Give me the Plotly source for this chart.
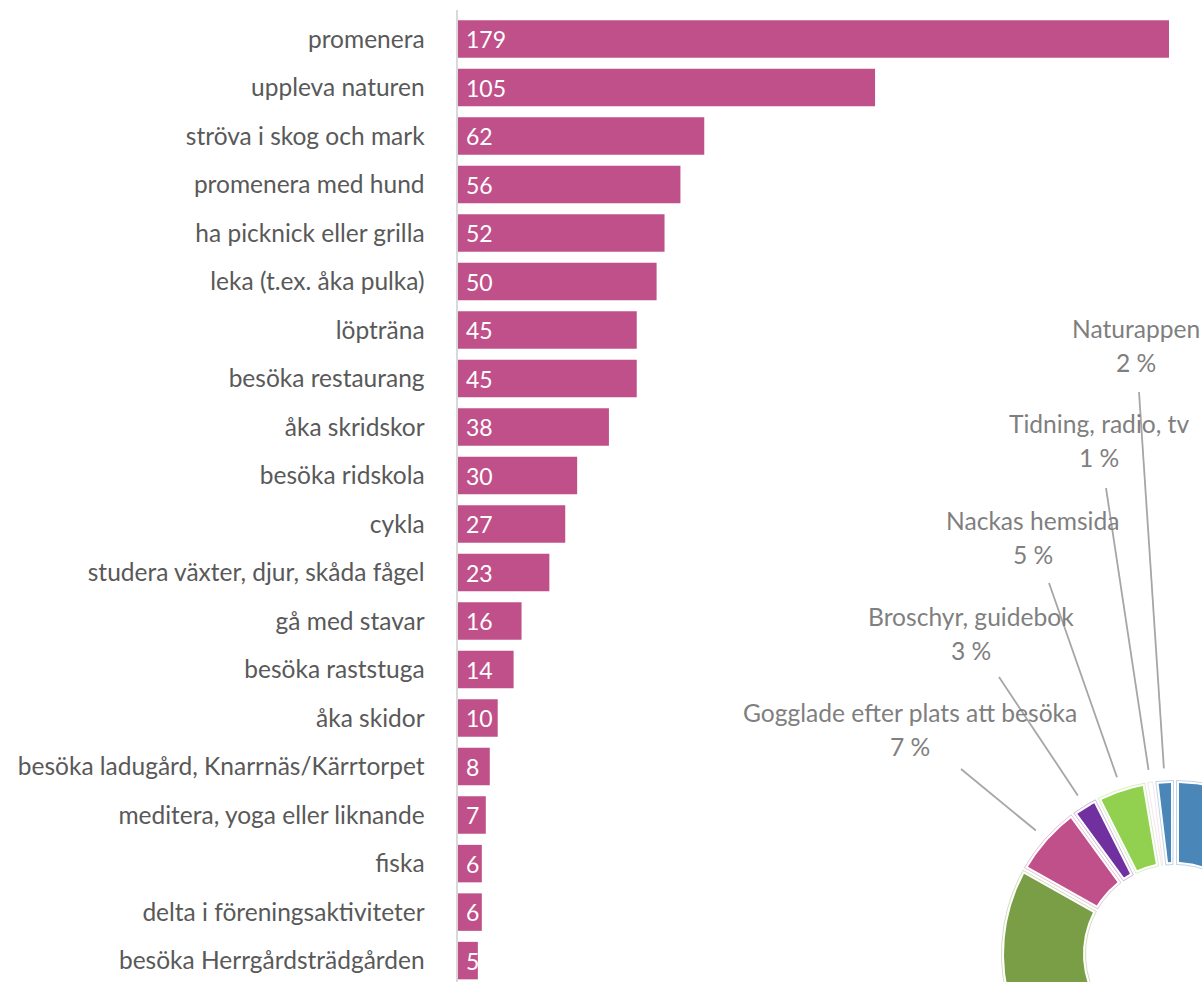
import math
import plotly.graph_objects as go

# ---------------- data ----------------
categories = [
    "promenera", "uppleva naturen", "ströva i skog och mark", "promenera med hund",
    "ha picknick eller grilla", "leka (t.ex. åka pulka)", "löpträna", "besöka restaurang",
    "åka skridskor", "besöka ridskola", "cykla", "studera växter, djur, skåda fågel",
    "gå med stavar", "besöka raststuga", "åka skidor", "besöka ladugård, Knarrnäs/Kärrtorpet",
    "meditera, yoga eller liknande", "fiska", "delta i föreningsaktiviteter",
    "besöka Herrgårdsträdgården",
]
counts = [179, 105, 62, 56, 52, 50, 45, 45, 38, 30, 27, 23, 16, 14, 10, 8, 7, 6, 6, 5]

# donut (clockwise from 12 o'clock); first two slices lie outside the visible area
source_labels = [
    "Övrigt A", "Övrigt B", "Gogglade efter plats att besöka", "Broschyr, guidebok",
    "Nackas hemsida", "Tidning, radio, tv", "Naturappen",
]
source_shares = [52.15, 31.0, 6.8, 2.6, 4.8, 0.75, 1.9]
source_show_label = [False, False, True, True, True, True, True]

# ---------------- styles / layout ----------------
PAGE_W, PAGE_H = 1202, 982
W, H = PAGE_W, PAGE_H
L_PAGE, T_PAGE = 458, 10     # plot area top-left in page pixels
BAR_COLOR = "#C0508A"
slice_colors = ["#4A86B8", "#7A9E46", "#C0508A", "#7030A0", "#92D050", "#FFFFFF", "#4A86B8"]
slice_outline = ["#4A86B8", "#7A9E46", "#C0508A", "#7030A0", "#92D050", "#E4B8D2", "#4A86B8"]
FONT = "Lato"
FS_CAT = 24.5
FS_VAL = 23
FS_LAB = 24.6

# donut geometry in page pixels
CX, CY = 1175, 954
R_OUT, R_IN = 171, 92
GAP = 4.0
LEADER_R = 186

# label placement (pixel centres of name line) and leader start points
label_pos = {
    "Naturappen": (1136, 328, 1139, 392),
    "Tidning, radio, tv": (1099, 423, 1106, 488),
    "Nackas hemsida": (1033, 520, 1049, 583),
    "Broschyr, guidebok": (971, 616, 999, 677),
    "Gogglade efter plats att besöka": (910, 712, 961, 769),
}
LINE_GAP = 34

fig = go.Figure()

fig.add_trace(go.Bar(
    x=counts, y=categories, orientation="h",
    marker=dict(color=BAR_COLOR, line=dict(width=0)),
    width=0.773, hoverinfo="skip", xaxis="x", yaxis="y",
))

for c, v in zip(categories, counts):
    fig.add_annotation(
        x=0, y=c, xref="x", yref="y", text=str(v), showarrow=False,
        xanchor="left", yanchor="middle", xshift=6,
        font=dict(family=FONT, size=FS_VAL, color="white"),
    )


def pt(phi_deg, rho):
    a = math.radians(phi_deg)
    return CX + rho * math.sin(a), CY - rho * math.cos(a)


def slice_poly(p0, p1, ro, ri, d):
    do = math.degrees(math.asin(d / ro))
    di = math.degrees(math.asin(d / ri))
    if p1 - p0 <= 2 * di:
        return None
    xs, ys = [], []
    n = max(4, int((p1 - p0) * 2))
    for k in range(n + 1):
        ph = p0 + do + (p1 - p0 - 2 * do) * k / n
        x, y = pt(ph, ro)
        xs.append(x); ys.append(y)
    for k in range(n + 1):
        ph = p1 - di - (p1 - p0 - 2 * di) * k / n
        x, y = pt(ph, ri)
        xs.append(x); ys.append(y)
    xs.append(xs[0]); ys.append(ys[0])
    return xs, ys


total = sum(source_shares)
cum = 0.0
mids = []
for lab, share, col, ocol in zip(source_labels, source_shares, slice_colors, slice_outline):
    p0 = cum / total * 360
    cum += share
    p1 = cum / total * 360
    mids.append((p0 + p1) / 2)
    outl = slice_poly(p0, p1, R_OUT + 2.5, R_IN - 2.5, GAP - 2.5)
    if outl:
        fig.add_trace(go.Scatter(
            x=outl[0], y=outl[1], mode="lines", line=dict(color=ocol, width=1),
            opacity=0.35, hoverinfo="skip", xaxis="x2", yaxis="y2",
        ))
    poly = slice_poly(p0, p1, R_OUT, R_IN, GAP)
    if poly and col.upper() != "#FFFFFF":
        fig.add_trace(go.Scatter(
            x=poly[0], y=poly[1], mode="lines", fill="toself", fillcolor=col,
            line=dict(width=0, color=col), hoverinfo="skip", xaxis="x2", yaxis="y2",
        ))

# leader lines and labels
for lab, share, show, mid in zip(source_labels, source_shares, source_show_label, mids):
    if not show:
        continue
    lx, ly, sx, sy = label_pos[lab]
    ex, ey = pt(mid, LEADER_R)
    fig.add_trace(go.Scatter(
        x=[sx, ex], y=[sy, ey], mode="lines", line=dict(color="#A6A6A6", width=1.8),
        hoverinfo="skip", xaxis="x2", yaxis="y2",
    ))
    fig.add_annotation(
        x=lx, y=ly, xref="x2", yref="y2", text=lab, showarrow=False,
        xanchor="center", yanchor="middle",
        font=dict(family=FONT, size=FS_LAB, color="#7F7F7F"),
    )
    fig.add_annotation(
        x=lx, y=ly + LINE_GAP, xref="x2", yref="y2", text=f"{round(share)} %",
        showarrow=False, xanchor="center", yanchor="middle",
        font=dict(family=FONT, size=FS_LAB, color="#7F7F7F"),
    )

px_per_cat = 48.5
plot_h = PAGE_H - T_PAGE
top_val = -0.6
bottom_val = top_val + plot_h / px_per_cat
px_per_unit = 3.972

fig.update_layout(
    width=W, height=H,
    margin=dict(l=L_PAGE, r=0, t=T_PAGE, b=0, autoexpand=False),
    paper_bgcolor="white", plot_bgcolor="rgba(0,0,0,0)",
    showlegend=False,
    hovermode=False,
    xaxis=dict(
        domain=[0, 1], range=[0, (PAGE_W - L_PAGE) / px_per_unit], visible=False,
        fixedrange=True,
    ),
    yaxis=dict(
        domain=[0, 1], type="category", categoryorder="array", categoryarray=categories,
        range=[bottom_val, top_val], showline=True, linecolor="#D9D9D9", linewidth=2.5,
        showgrid=False, zeroline=False, ticks="", ticklabelstandoff=26,
        tickfont=dict(family=FONT, size=FS_CAT, color="#595959"), fixedrange=True,
    ),
    xaxis2=dict(
        domain=[0, 1], range=[L_PAGE, PAGE_W], anchor="y2", showgrid=False, zeroline=False,
        showticklabels=False, showline=False, ticks="", fixedrange=True,
    ),
    yaxis2=dict(
        domain=[0, 1], range=[PAGE_H, T_PAGE], anchor="x2", showgrid=False, zeroline=False,
        showticklabels=False, showline=False, ticks="", fixedrange=True,
    ),
)

fig.write_html(
    "out.html",
    config={"displayModeBar": False, "staticPlot": True},
    post_script="document.body.style.margin='0';"
                "document.documentElement.style.overflow='hidden';"
                "document.body.style.overflow='hidden';",
)
